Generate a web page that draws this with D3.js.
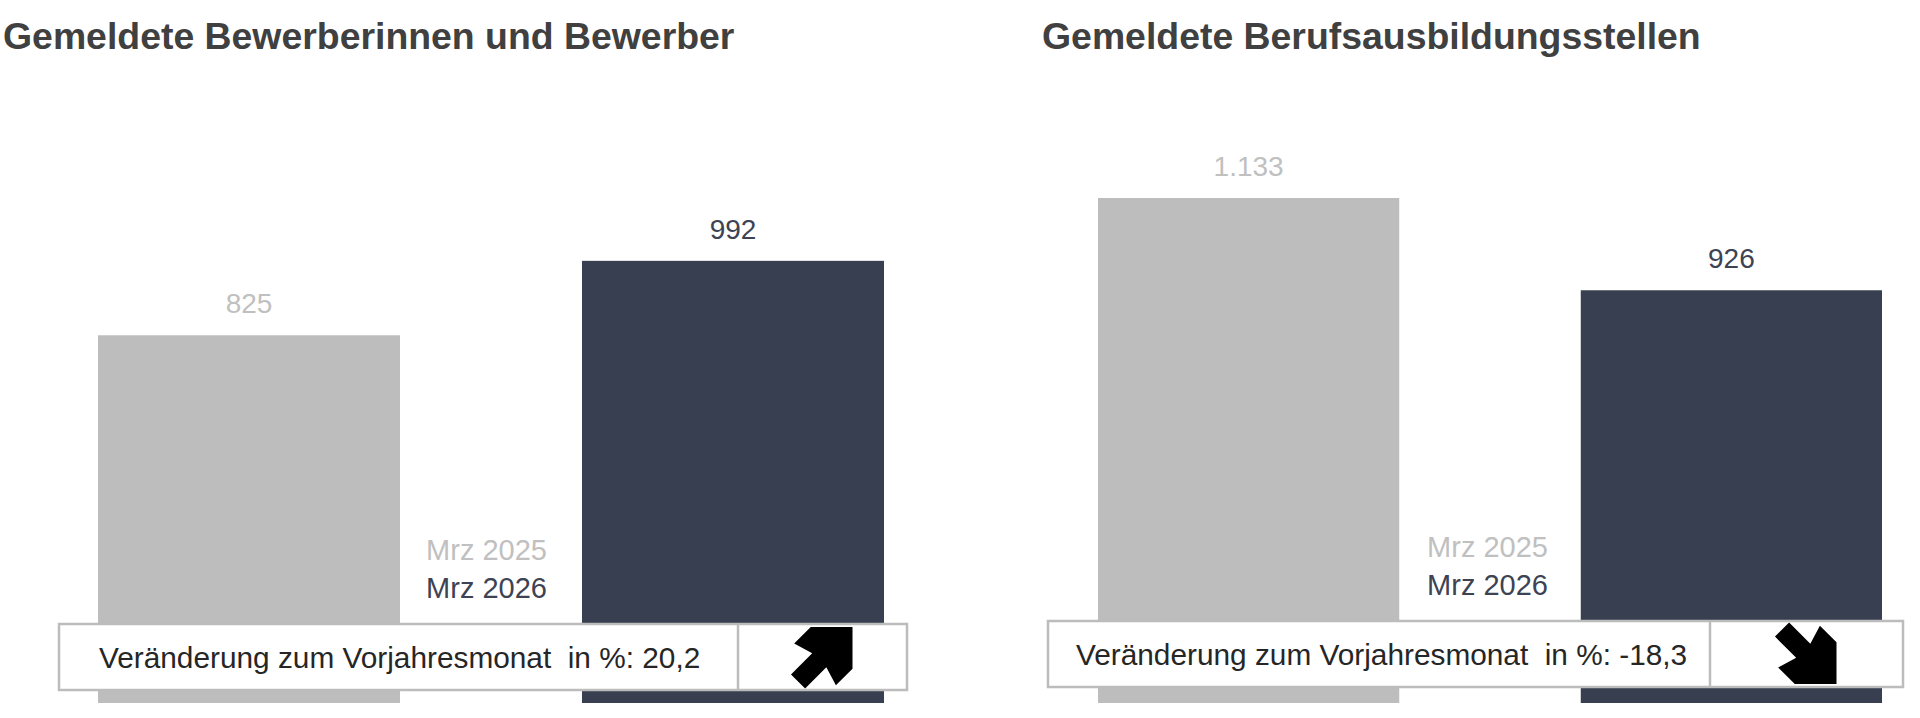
<!DOCTYPE html>
<html>
<head>
<meta charset="utf-8">
<script src="https://cdn.jsdelivr.net/npm/d3@7"></script>
<style>
  body { margin: 0; background: #fff; }
  svg { display: block; font-family: "Liberation Sans", Arial, sans-serif; }
</style>
</head>
<body>
<svg id="chart"></svg>
<script>

// data
var titles = ["Gemeldete Bewerberinnen und Bewerber", "Gemeldete Berufsausbildungsstellen"]
var periods = ["Mrz 2025", "Mrz 2026"]
var prevValues = [825, 1133]
var currValues = [992, 926]
var changes = [20.2, -18.3]
var changeLabel = "Veränderung zum Vorjahresmonat  in %: "

var width = 1920
var height = 718

// per panel layout
var panels = [
  {x0: 98, x1: 884, titleX: 3, legendX: 547, box: [59, 738, 907], boxTop: 624, textX: 99},
  {x0: 1098, x1: 1882, titleX: 1042, legendX: 1548, box: [1048, 1710, 1903], boxTop: 621, textX: 1076}
]

var barColors = ["#bdbdbd", "#383f51"]
var labelColors = ["#c0c0c0", "#3d4353"]

var svg = d3.select('#chart')
            .attr('width', width)
            .attr('height', height)

svg.append('rect').attr('width', width).attr('height', height).attr('fill', '#fff')

// one shared value scale for both panels
var yScale = d3.scaleLinear()
               .domain([0, d3.max(prevValues.concat(currValues))])
               .range([703, 198])

var fmt = function(v){ return d3.format(',')(v).replace(/,/g, '.') }
var fmtPct = function(v){ return v.toFixed(1).replace('.', ',') }

// arrow outline pointing along +x, tip at 0,0
var arrowShape = [[0,0],[-29.5,-29.5],[-53,-29.5],[-47,-10],[-77,-10],[-77,10],[-47,10],[-53,29.5],[-29.5,29.5]]

titles.forEach(function(title, i){
  var p = panels[i]
  var g = svg.append('g')

  g.append('text')
   .attr('x', p.titleX)
   .attr('y', 49)
   .attr('font-size', 37.4)
   .attr('font-weight', 'bold')
   .attr('fill', '#404040')
   .text(title)

  var xScale = d3.scaleBand()
                 .domain(periods)
                 .range([p.x0, p.x1])
                 .paddingInner(0.376)

  var vals = [prevValues[i], currValues[i]]

  g.selectAll('rect.bar')
   .data(vals)
   .enter()
   .append('rect')
   .attr('class', 'bar')
   .attr('x', function(d, j){ return xScale(periods[j]) })
   .attr('y', function(d){ return yScale(d) })
   .attr('width', xScale.bandwidth())
   .attr('height', function(d){ return yScale(0) - yScale(d) })
   .attr('fill', function(d, j){ return barColors[j] })

  g.selectAll('text.val')
   .data(vals)
   .enter()
   .append('text')
   .attr('class', 'val')
   .attr('x', function(d, j){ return xScale(periods[j]) + xScale.bandwidth() / 2 })
   .attr('y', function(d){ return yScale(d) - 22 })
   .attr('text-anchor', 'middle')
   .attr('font-size', 28)
   .attr('fill', function(d, j){ return labelColors[j] })
   .text(fmt)

  // legend between the bars
  g.selectAll('text.leg')
   .data(periods)
   .enter()
   .append('text')
   .attr('class', 'leg')
   .attr('x', p.legendX)
   .attr('y', function(d, j){ return p.boxTop - 64 + j * 38 })
   .attr('text-anchor', 'end')
   .attr('font-size', 29)
   .attr('fill', function(d, j){ return labelColors[j] })
   .text(function(d){ return d })

  // change box
  var boxH = 66
  g.append('rect')
   .attr('x', p.box[0])
   .attr('y', p.boxTop)
   .attr('width', p.box[2] - p.box[0])
   .attr('height', boxH)
   .attr('fill', '#fff')
   .attr('stroke', '#bcbcbc')
   .attr('stroke-width', 2.5)

  g.append('line')
   .attr('x1', p.box[1]).attr('x2', p.box[1])
   .attr('y1', p.boxTop).attr('y2', p.boxTop + boxH)
   .attr('stroke', '#bcbcbc')
   .attr('stroke-width', 2.5)

  g.append('text')
   .attr('x', p.textX)
   .attr('y', p.boxTop + boxH / 2 + 11)
   .attr('font-size', 29.8)
   .attr('fill', '#262626')
   .style('white-space', 'pre')
   .text(changeLabel + fmtPct(changes[i]))

  var up = changes[i] >= 0
  var cx = (p.box[1] + p.box[2]) / 2
  var cy = p.boxTop + boxH / 2
  g.append('path')
   .attr('d', d3.line()(arrowShape) + 'Z')
   .attr('transform', 'translate(' + (cx + 30) + ',' + (up ? cy - 30 : cy + 30) + ') rotate(' + (up ? -45 : 45) + ')')
   .attr('fill', '#000')
})

</script>
</body>
</html>
